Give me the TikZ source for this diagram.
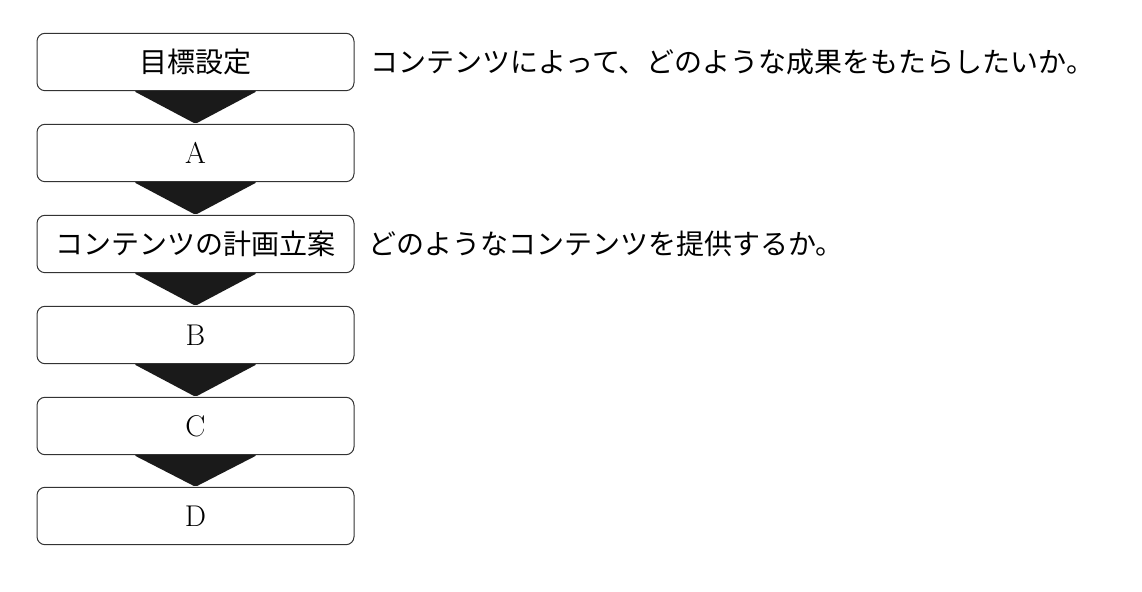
\documentclass[tikz,border=0pt]{standalone}
\usepackage{fontspec}
\newfontfamily\jpfont{Noto Sans CJK JP}
\definecolor{arrowblack}{HTML}{1A1A1A}
\definecolor{boxline}{HTML}{333333}
\tikzset{
  stepbox/.style={draw=boxline, line width=0.5pt, rounded corners=4pt,
    minimum width=158.5pt, minimum height=28.7pt, inner sep=0pt,
    font=\fontsize{15}{17}\selectfont},
  note/.style={anchor=west, inner sep=0pt, font=\jpfont\fontsize{14}{16}\selectfont}
}
\begin{document}
\begin{tikzpicture}[x=0.5pt, y=-0.5pt]
  \useasboundingbox (0,0) rectangle (1142,592);

  % boxes
  \node[stepbox] (s1) at (195.5, 62) {\jpfont\fontsize{14}{16}\selectfont 目標設定};
  \node[stepbox] (s2) at (195.5, 153) {A};
  \node[stepbox] (s3) at (195.5, 244) {\jpfont\fontsize{14}{16}\selectfont コンテンツの計画立案};
  \node[stepbox] (s4) at (195.5, 335) {B};
  \node[stepbox] (s5) at (195.5, 426) {C};
  \node[stepbox] (s6) at (195.5, 516) {D};

  % arrows
  \foreach \a/\b in {s1/s2, s2/s3, s3/s4, s4/s5, s5/s6}
    \fill[arrowblack, rounded corners=1pt] (\a.south) ++(-61.5,0) -- ++(123,0) -- (\b.north) -- cycle;

  % notes
  \node[note] (n1) at (370, 62) {コンテンツによって、どのような成果をもたらしたいか。};
  \node[note] (n3) at (368, 244) {どのようなコンテンツを提供するか。};

\end{tikzpicture}
\end{document}
